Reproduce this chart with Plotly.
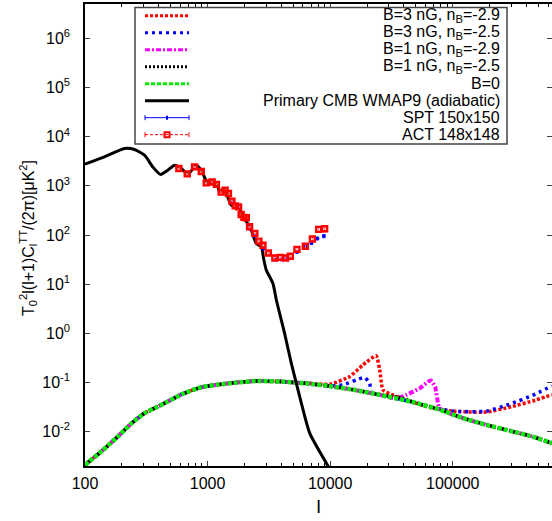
import plotly.graph_objects as go

# Power spectrum curves, l and T0^2 l(l+1)C_l/(2pi) [uK^2]
ell_B0 = [100, 140, 185, 240, 306, 380, 474, 620, 889, 1200, 1660, 2580, 3980, 6300,
          9950, 16000, 25300, 47000, 65000, 78300, 120000, 188000, 310000, 450000, 643000]
cl_B0 = [0.0021, 0.0042, 0.0079, 0.0148, 0.0237, 0.031, 0.041, 0.058, 0.080, 0.090, 0.099,
         0.107, 0.104, 0.096, 0.084, 0.070, 0.056, 0.040, 0.032, 0.028, 0.019, 0.0137,
         0.010, 0.0079, 0.0058]

ell_B3_29 = [100, 140, 185, 240, 306, 380, 474, 620, 889, 1200, 1660, 2580, 3980, 6300,
             9950, 14400, 18500, 23700, 25400, 27000, 34700, 47000, 65000, 100000, 188000,
             300000, 450000, 643000]
cl_B3_29 = [0.0021, 0.0042, 0.0079, 0.0148, 0.0237, 0.031, 0.041, 0.058, 0.080, 0.090, 0.099,
            0.107, 0.104, 0.097, 0.092, 0.131, 0.227, 0.35, 0.18, 0.07, 0.052, 0.040, 0.031,
            0.026, 0.025, 0.032, 0.042, 0.056]

ell_B3_25 = [100, 140, 185, 240, 306, 380, 474, 620, 889, 1200, 1660, 2580, 3980, 6300,
             9950, 12700, 16400, 19100, 21000, 21700, 25300, 47000, 65000, 100000, 188000,
             300000, 450000, 643000]
cl_B3_25 = [0.0021, 0.0042, 0.0079, 0.0148, 0.0237, 0.031, 0.041, 0.058, 0.080, 0.090, 0.099,
            0.107, 0.104, 0.096, 0.086, 0.089, 0.113, 0.126, 0.096, 0.062, 0.056, 0.040, 0.032,
            0.026, 0.026, 0.037, 0.055, 0.085]

ell_B1_29 = [100, 140, 185, 240, 306, 380, 474, 620, 889, 1200, 1660, 2580, 3980, 6300,
             9950, 16000, 25300, 34700, 41900, 53800, 66000, 72000, 78300, 120000, 188000,
             310000, 450000, 643000]
cl_B1_29 = [0.0021, 0.0042, 0.0079, 0.0148, 0.0237, 0.031, 0.041, 0.058, 0.080, 0.090, 0.099,
            0.107, 0.104, 0.096, 0.084, 0.070, 0.056, 0.047, 0.056, 0.076, 0.11, 0.08, 0.030,
            0.019, 0.0137, 0.010, 0.0079, 0.0058]

ell_B1_25 = [100, 140, 185, 240, 306, 380, 474, 620, 889, 1200, 1660, 2580, 3980, 6300,
             9950, 16000, 25300, 36000, 42000, 47000, 65000, 78300, 120000, 188000, 310000,
             450000, 643000]
cl_B1_25 = [0.0021, 0.0042, 0.0079, 0.0148, 0.0237, 0.031, 0.041, 0.058, 0.080, 0.090, 0.099,
            0.107, 0.104, 0.096, 0.084, 0.070, 0.056, 0.050, 0.045, 0.040, 0.032, 0.028, 0.019,
            0.0137, 0.010, 0.0079, 0.0058]

ell_cmb = [100, 144, 210, 253, 306, 357, 413, 474, 538, 610, 691, 809, 889, 1005, 1104, 1213,
           1253, 1376, 1560, 1767, 2004, 2273, 2500, 2743, 2865, 3010, 3410, 3640, 4250, 4820,
           5300, 5820, 6810, 9310, 10000]
cl_cmb = [2760, 3890, 5750, 5500, 4200, 2430, 1710, 2080, 2630, 2260, 1730, 2630, 2080, 1120,
          1205, 955, 755, 845, 406, 374, 217, 126, 67, 57.6, 33.4, 19.4, 10.4, 4.75, 1.0, 0.246,
          0.096, 0.038, 0.0093, 0.00228, 0.0017]

# Bandpowers
ell_spt = [1580, 1790, 1980, 2230, 2450, 2860, 3590, 3990, 4390, 5360, 6280, 7030, 7870, 8890]
cl_spt = [480, 370, 224, 132, 95, 53, 31.9, 31.9, 33.4, 45, 57.6, 68.4, 85, 95]
err_spt = [12, 9, 6, 4, 3, 2, 1.5, 1.5, 1.6, 2.2, 3, 4, 5, 7]

ell_act = [583, 683, 783, 889, 975, 1090, 1180, 1290, 1390, 1480, 1580, 1680, 1790, 1880,
           1980, 2070, 2200, 2430, 2620, 2830, 3130, 3540, 3920, 4330, 4730, 5360, 6280,
           7160, 8060, 9020]
cl_act = [2260, 1750, 2430, 1960, 1150, 1200, 1070, 745, 818, 700, 488, 392, 374, 262, 228,
          224, 147, 108, 75, 62, 43, 34, 35, 34, 37, 51, 59, 83, 130, 134]
err_act = [60, 45, 55, 40, 25, 25, 22, 15, 16, 14, 10, 8, 8, 6, 5, 5, 4, 3, 2.5, 2.2, 2, 2,
           2.2, 2.4, 2.8, 4, 5, 8, 14, 20]

legend_labels = ["B=3 nG, n<sub>B</sub>=-2.9", "B=3 nG, n<sub>B</sub>=-2.5",
                 "B=1 nG, n<sub>B</sub>=-2.9", "B=1 nG, n<sub>B</sub>=-2.5", "B=0",
                 "Primary CMB WMAP9 (adiabatic)", "SPT 150x150", "ACT 148x148"]

W, H = 552, 521
ML, MR, MT, MB = 85, 0, 4, 55


def fx(x):
    return (x - ML) / (W - ML - MR)


def fy(y):
    return (H - MB - y) / (H - MT - MB)


styles = [
    ("#ff0000", "3px,2px", 3.5),
    ("#0000ff", "3px,4px", 3.5),
    ("#ff00ff", "5px,2px,2px,2px", 4),
    ("#000000", "2px,2px", 3.5),
    ("#00ee00", "4px,2px", 4.5),
]
curves = [(ell_B3_29, cl_B3_29), (ell_B3_25, cl_B3_25), (ell_B1_29, cl_B1_29),
          (ell_B1_25, cl_B1_25), (ell_B0, cl_B0)]

fig = go.Figure()
for (x, y), (c, d, w) in zip(curves, styles):
    fig.add_trace(go.Scatter(x=x, y=y, mode="lines",
                             line=dict(color=c, dash=d, width=w, shape="spline", smoothing=0.5)))

fig.add_trace(go.Scatter(x=ell_cmb, y=cl_cmb, mode="lines",
                         line=dict(color="black", width=3, shape="spline", smoothing=0.6)))
fig.add_trace(go.Scatter(x=ell_spt, y=cl_spt, mode="markers",
                         marker=dict(color="#0000ff", size=4, symbol="circle"),
                         error_y=dict(type="data", array=err_spt, color="#0000ff",
                                      thickness=1, width=1.5)))
fig.add_trace(go.Scatter(x=ell_act, y=cl_act, mode="markers",
                         marker=dict(color="#ff0000", size=5, symbol="square-open",
                                     line=dict(color="#ff0000", width=2.4)),
                         error_y=dict(type="data", array=err_act, color="#ff8080",
                                      thickness=1, width=1.5)))

# hand-made legend (right-aligned text like gnuplot)
shapes = [dict(type="rect", xref="paper", yref="paper", x0=fx(135), x1=fx(507),
               y0=fy(144), y1=fy(7.5), line=dict(color="#444", width=1.5),
               fillcolor="white", layer="above")]
annotations = []
row_y = [15.7 + 17 * i for i in range(8)]
for i, (c, d, w) in enumerate(styles):
    shapes.append(dict(type="line", xref="paper", yref="paper", x0=fx(145), x1=fx(189),
                       y0=fy(row_y[i]), y1=fy(row_y[i]),
                       line=dict(color=c, dash=d, width=3), layer="above"))
shapes.append(dict(type="line", xref="paper", yref="paper", x0=fx(145), x1=fx(189),
                   y0=fy(row_y[5]), y1=fy(row_y[5]), line=dict(color="black", width=3),
                   layer="above"))
for i, (c, d) in zip([6, 7], [("#0000ff", "solid"), ("#ff0000", "3px,2px")]):
    yy = row_y[i]
    shapes.append(dict(type="line", xref="paper", yref="paper", x0=fx(145), x1=fx(189),
                       y0=fy(yy), y1=fy(yy), line=dict(color=c, dash=d, width=1),
                       layer="above"))
    for xe in (145, 189):
        shapes.append(dict(type="line", xref="paper", yref="paper", x0=fx(xe), x1=fx(xe),
                           y0=fy(yy - 2.5), y1=fy(yy + 2.5), line=dict(color=c, width=1),
                           layer="above"))
shapes.append(dict(type="line", xref="paper", yref="paper", x0=fx(167), x1=fx(167),
                   y0=fy(row_y[6] - 2), y1=fy(row_y[6] + 2),
                   line=dict(color="#0000ff", width=2), layer="above"))
shapes.append(dict(type="rect", xref="paper", yref="paper", x0=fx(164.5), x1=fx(169.5),
                   y0=fy(row_y[7] + 2.5), y1=fy(row_y[7] - 2.5),
                   line=dict(color="#ff0000", width=2), layer="above"))
for i, lab in enumerate(legend_labels):
    annotations.append(dict(xref="paper", yref="paper", x=fx(502), y=fy(row_y[i]),
                            xanchor="right", yanchor="middle", text=lab, showarrow=False,
                            font=dict(size=16, color="black")))

# y axis title placed by hand
annotations.append(dict(xref="paper", yref="paper", x=fx(28), y=fy(238), textangle=-90,
                        xanchor="center", yanchor="middle", showarrow=False,
                        text="T<sub>0</sub><sup>2</sup>l(l+1)C<sub>l</sub><sup>TT</sup>/(2π)[μK<sup>2</sup>]",
                        font=dict(size=16, color="black")))

ytv = [1e-2, 1e-1, 1, 10, 100, 1e3, 1e4, 1e5, 1e6]
ytt = ["10<sup>-2</sup>", "10<sup>-1</sup>", "10<sup>0</sup>", "10<sup>1</sup>",
       "10<sup>2</sup>", "10<sup>3</sup>", "10<sup>4</sup>", "10<sup>5</sup>", "10<sup>6</sup>"]
xminor = [m * 10 ** e for e in range(2, 6) for m in range(2, 10)]

fig.update_layout(
    width=W, height=H, margin=dict(l=ML, r=MR, t=MT, b=MB, autoexpand=False),
    paper_bgcolor="white", plot_bgcolor="white", showlegend=False,
    font=dict(family="Liberation Sans, Arial, sans-serif", size=16, color="black"),
    shapes=shapes, annotations=annotations,
)
fig.update_xaxes(type="log", range=[2, 5.81], tickvals=[100, 1000, 10000, 100000],
                 ticktext=["100", "1000", "10000", "100000"], ticks="inside", ticklen=5,
                 minor=dict(tickvals=xminor, ticks="inside", ticklen=3, tickcolor="black"),
                 showline=True, linecolor="black", linewidth=1.5, mirror="allticks",
                 showgrid=False, zeroline=False, ticklabelstandoff=2, automargin=False,
                 title=dict(text="l", standoff=9))
fig.update_yaxes(type="log", range=[-2.70, 6.70], tickvals=ytv, ticktext=ytt,
                 ticks="inside", ticklen=5, showline=True, linecolor="black", linewidth=1.5,
                 mirror="allticks", showgrid=False, zeroline=False, ticklabelstandoff=10,
                 automargin=False)

# the page's default body margin would shift the figure by 8px
fig.write_html("out.html", config={"displayModeBar": False},
               post_script="document.body.style.margin='0';")
